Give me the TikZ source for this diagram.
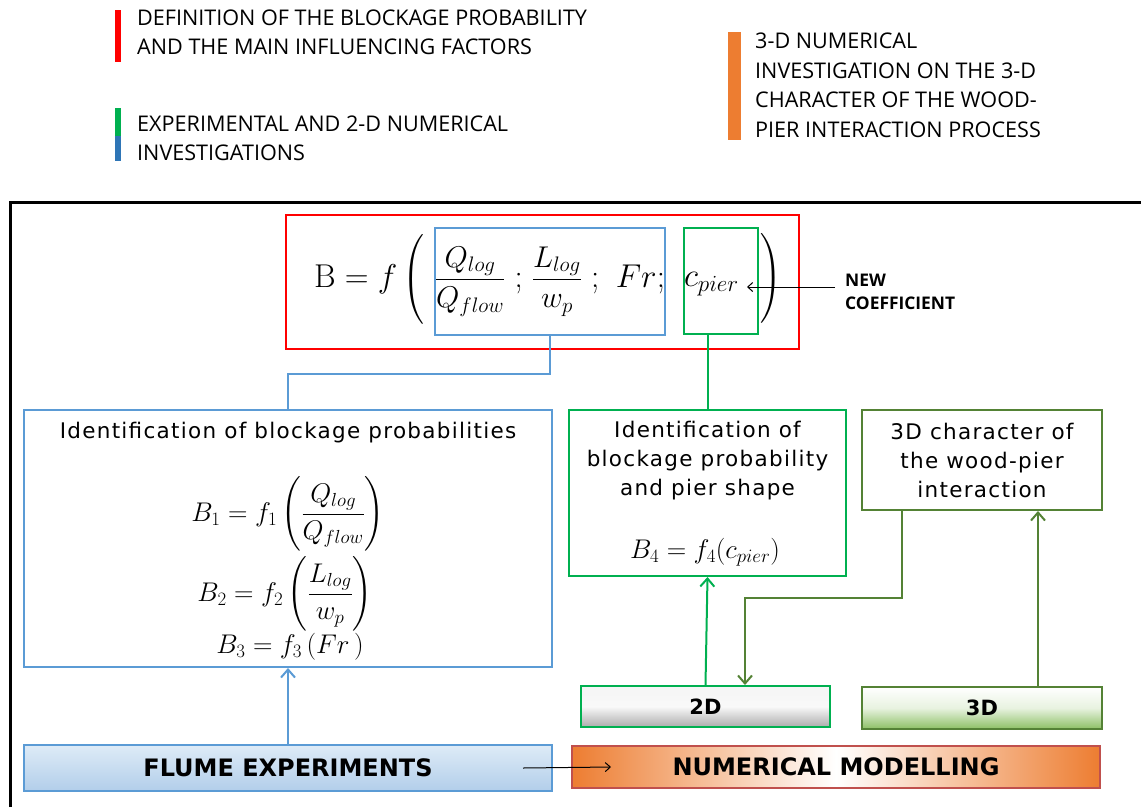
\RequirePackage{fix-cm}
\documentclass[tikz,border=0pt]{standalone}
\usepackage{amsmath}
\usepackage{fontspec}
\newfontfamily\verdana[LetterSpace=6]{DejaVu Sans}
\newfontfamily\barfont{DejaVu Sans}
\newfontfamily\calibri{Open Sans}
\usetikzlibrary{arrows.meta,positioning}
\definecolor{DefRed}{RGB}{255, 0, 0}
\definecolor{ExpBlue}{RGB}{91, 155, 213}
\definecolor{LegBlue}{RGB}{46, 117, 182}
\definecolor{NumGreen}{RGB}{0, 176, 80}
\definecolor{DarkGreen}{RGB}{84, 130, 53}
\definecolor{AccentOrange}{RGB}{237, 125, 49}
\definecolor{ModRed}{RGB}{192, 80, 77}
\definecolor{FlumeTop}{RGB}{222, 235, 247}
\definecolor{FlumeBottom}{RGB}{178, 206, 234}
\definecolor{SoftGreen}{RGB}{140, 192, 100}
% smaller fractions inside the large formula
\newcommand{\midfrac}[2]{{\fontsize{30}{34}\selectfont$\displaystyle\frac{#1}{#2}$}}
% parenthesis of fixed height
\newcommand{\tallparen}[1]{\left#1\vcenter to 90pt{}\right.}

\begin{document}
\begin{tikzpicture}[x=1pt, y=-1pt,
    boxframe/.style={draw, line width=2pt, inner sep=0pt},
    boxtext/.style={font=\verdana\fontsize{21.5}{29}\selectfont, align=center, inner sep=0pt},
    eqtext/.style={font=\fontsize{27}{32}\selectfont, inner sep=0pt},
    bigeq/.style={font=\fontsize{33}{33}\selectfont, inner sep=0pt},
    bartext/.style={font=\barfont\bfseries\fontsize{24}{28}\selectfont},
    smallbar/.style={font=\barfont\bfseries\fontsize{21}{24}\selectfont},
    legend/.style={font=\calibri\fontsize{21.6}{29.5}\selectfont, align=left, anchor=west, inner sep=0pt},
    link/.style={line width=2pt},
    >={Straight Barb[length=8pt,width=14pt]}]
    \useasboundingbox (0,0) rectangle (1141,807);

    % Legend
    \fill[DefRed] (115,10) rectangle (121,62);
    \fill[NumGreen] (115,108) rectangle (121,136);
    \fill[LegBlue] (115,136) rectangle (121,161);
    \fill[AccentOrange] (728,32) rectangle (741,140);
    \node[legend] (legdef) at (137,32.5) {DEFINITION OF THE BLOCKAGE PROBABILITY\\AND THE MAIN INFLUENCING FACTORS};
    \node[legend] (legexp) at (137,138.5) {EXPERIMENTAL AND 2-D NUMERICAL\\INVESTIGATIONS};
    \node[legend] (legthree) at (755,85.5) {3-D NUMERICAL\\INVESTIGATION ON THE 3-D\\CHARACTER OF THE WOOD-\\PIER INTERACTION PROCESS};

    % Outer frame, open to the right and bottom
    \draw[line width=3pt] (10,807) -- (10,202) -- (1141,202);

    % Blockage probability
    \node[boxframe, draw=DefRed, minimum width=513pt, minimum height=134pt] (defbox) at (542.5,282) {};
    \node[boxframe, draw=ExpBlue, minimum height=107pt, text width=230pt, inner xsep=6pt, align=left, bigeq] (fracs) at (550,281.5)
      {\midfrac{Q_{log}}{Q_{flow}}\hfill$;$\hfill\midfrac{L_{log}}{w_p}\hfill$;\ Fr;$};
    \node[boxframe, draw=NumGreen, minimum height=106pt, text width=74pt, inner xsep=4pt, align=left, bigeq] (coef) at (721,281)
      {\vphantom{\midfrac{Q_{log}}{Q_{flow}}}$c_{pier}$};
    \node[bigeq, anchor=base east] (lhs) at ([xshift=-8pt]fracs.base west) {$\mathrm{B} = f\tallparen($};
    \node[bigeq, anchor=base west] (rpar) at ([xshift=1pt]coef.base east) {$\tallparen)$};
    \node[font=\calibri\bfseries\fontsize{17.4}{23}\selectfont, align=left, anchor=west, inner sep=0pt] (newcoef) at (845,291.5) {NEW\\COEFFICIENT};
    \draw[line width=1pt, -{Straight Barb[length=5pt,width=9pt]}] ([xshift=-10pt,yshift=4.5pt]newcoef.west) -- ([xshift=-12pt,yshift=-6pt]coef.east);

    % Experimental identification
    \node[boxframe, draw=ExpBlue, minimum width=528pt, minimum height=257pt] (blockbox) at (288,538.5) {};
    \node[boxtext] (blocktitle) at (288,433) {Identification of blockage probabilities};
    \node[eqtext, anchor=base] (eqone) at (288,521) {$\displaystyle B_1 = f_1\left(\frac{Q_{log}}{Q_{flow}}\right)$};
    \node[eqtext, anchor=base] (eqtwo) at (285,601) {$\displaystyle B_2 = f_2\left(\frac{L_{log}}{w_p}\right)$};
    \node[eqtext, anchor=base] (eqthree) at (290,653) {$B_3 = f_3\,(Fr\,)$};

    % Numerical identification
    \node[boxframe, draw=NumGreen, minimum width=277pt, minimum height=166pt] (shapebox) at (707.5,493) {};
    \node[boxtext] (shapetitle) at (707.5,461) {Identification of\\blockage probability\\and pier shape};
    \node[eqtext, anchor=base] (eqfour) at (705,558) {$B_4 = f_4(c_{pier})$};
    \node[boxframe, draw=DarkGreen, minimum width=240pt, minimum height=100pt, boxtext] (charbox) at (982,460)
      {3D character of\\the wood-pier\\interaction};

    % Models
    \node[boxframe, draw=NumGreen, minimum width=249pt, minimum height=41pt, smallbar,
      top color=gray!8, bottom color=gray!65, middle color=gray!5] (twod) at (705.5,706.5) {2D};
    \node[boxframe, draw=DarkGreen, minimum width=240pt, minimum height=42pt, smallbar,
      top color=white, bottom color=SoftGreen, middle color=SoftGreen!20] (threed) at (982,708) {3D};
    \node[boxframe, draw=ExpBlue, minimum width=528pt, minimum height=46pt, bartext,
      top color=FlumeTop, bottom color=FlumeBottom] (flume) at (288,768) {FLUME EXPERIMENTS};
    \node[boxframe, draw=ModRed, minimum width=528pt, minimum height=42pt, bartext,
      left color=AccentOrange, right color=AccentOrange, middle color=white] (nummod) at (836,767) {NUMERICAL MODELLING};

    % Connectors
    \draw[link, ExpBlue] (fracs.south) -- ++(0,38) -| (blockbox.north);
    \draw[link, NumGreen] (coef.south -| shapebox.north) -- (shapebox.north);
    \draw[link, ExpBlue, ->] (flume.north) -- (blockbox.south);
    \draw[link, NumGreen, ->] (twod.north) -- (shapebox.south);
    \draw[link, DarkGreen, ->] ([xshift=56pt]threed.north) -- ([xshift=56pt]charbox.south);
    \draw[link, DarkGreen, ->] ([xshift=-80pt]charbox.south) -- ++(0,87) -| ([xshift=39.5pt]twod.north);
    \draw[line width=1pt, -{Straight Barb[length=5pt,width=9pt]}] ([xshift=-30pt]flume.east) -- ([xshift=40pt]nummod.west);
\end{tikzpicture}
\end{document}
